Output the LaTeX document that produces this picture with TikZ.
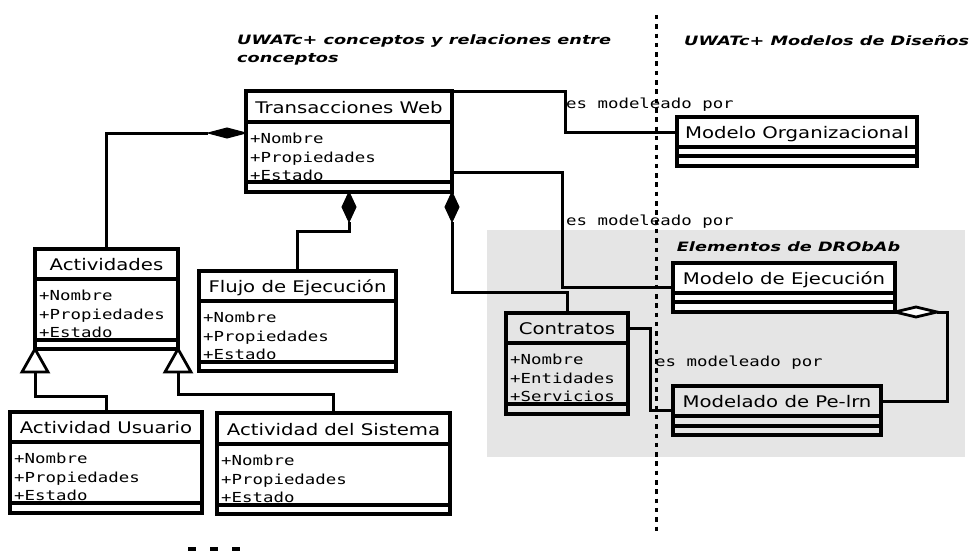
\documentclass[tikz,border=0pt]{standalone}
\usepackage{fontspec}
\setmainfont{DejaVu Sans}[FakeStretch=1.23]
\newfontfamily\attrfont{DejaVu Sans Mono}[FakeStretch=1.26]
\newfontfamily\ttlfont{DejaVu Sans}[FakeStretch=1.37]
\usetikzlibrary{calc}
\definecolor{regiongray}{RGB}{229,229,229}
\tikzset{
  clsbox/.style={draw, line width=3.1pt, inner sep=0pt, outer sep=0pt, anchor=north west},
  clsline/.style={line width=3.1pt},
  clstitle/.style={anchor=base, inner sep=0pt, font=\fontsize{16}{18}\selectfont},
  attr/.style={anchor=base west, inner sep=0pt, font=\attrfont\fontsize{13.8}{16}\selectfont},
  lbl/.style={anchor=base west, inner sep=0pt, font=\attrfont\fontsize{13.8}{16}\selectfont},
  ttl/.style={anchor=base west, inner sep=0pt, font=\ttlfont\bfseries\itshape\fontsize{12.9}{15}\selectfont},
  conn/.style={line width=3pt},
  diafill/.style={line width=1pt, draw, fill=black, line join=miter},
  diaopen/.style={line width=2.8pt, draw, fill=white, line join=miter},
  triopen/.style={line width=2.8pt, draw, fill=white, line join=miter},
  sepline/.style={line width=3pt, dash pattern=on 4.5pt off 4.8pt},
}
\newcommand\umlclass[9]{%
  \pgfmathsetmacro\clsW{#4-#2}%
  \pgfmathsetmacro\clsH{#5-#3}%
  \node[clsbox, fill=#9, minimum width=\clsW pt, minimum height=\clsH pt] (#1) at (#2,#3) {};
  \draw[clsline] (#2,#6) -- (#4,#6) (#2,#7) -- (#4,#7);
  \node[clstitle] (#1-title) at ({(#2+#4)/2},{#6-8.5}) {#8};
}
\newcommand\umlattrs[6]{%
  \node[attr] (#1-a1) at ({#2+4},{#3+21.5}) {#4};
  \node[attr] (#1-a2) at ({#2+4},{#3+40}) {#5};
  \node[attr] (#1-a3) at ({#2+4},{#3+58.5}) {#6};
}
\begin{document}
\begin{tikzpicture}[x=1pt,y=-1pt]
\useasboundingbox (0,0) rectangle (969,551);
% region
\fill[regiongray] (487,230) rectangle (965,457);
% classes
\umlclass{trans}{246}{91}{452}{192}{122}{182}{Transacciones Web}{white}
\umlattrs{trans}{246}{122}{+Nombre}{+Propiedades}{+Estado}
\umlclass{org}{677}{117}{917}{166}{147}{156}{Modelo Organizacional}{white}
\umlclass{act}{35}{249}{178}{349}{279}{340}{Actividades}{white}
\umlattrs{act}{35}{279}{+Nombre}{+Propiedades}{+Estado}
\umlclass{flujo}{199}{271}{396}{371}{301}{362}{Flujo de Ejecución}{white}
\umlattrs{flujo}{199}{301}{+Nombre}{+Propiedades}{+Estado}
\umlclass{actU}{10}{412}{202}{513}{442}{503}{Actividad Usuario}{white}
\umlattrs{actU}{10}{442}{+Nombre}{+Propiedades}{+Estado}
\umlclass{actS}{217}{413}{450}{514}{444}{505}{Actividad del Sistema}{white}
\umlattrs{actS}{217}{444}{+Nombre}{+Propiedades}{+Estado}
\umlclass{ejec}{673}{263}{895}{312}{293}{302}{Modelo de Ejecución}{white}
\umlclass{contr}{506}{313}{628}{414}{343}{404}{Contratos}{none}
\umlattrs{contr}{506}{343}{+Nombre}{+Entidades}{+Servicios}
\umlclass{pelrn}{673}{386}{881}{435}{416}{426}{Modelado de Pe-lrn}{none}
% composition Transacciones <- Actividades
\coordinate (cA) at ($(trans.north west)+(0,42)$);
\draw[conn] ($(cA)+(-38,0)$) -| (act.north);
\draw[diafill] (cA) -- ++(-19,-5) -- ++(-19,5) -- ++(19,5) -- cycle;
% composition Transacciones <- Flujo
\draw[conn] ($(trans.south)+(0,30)$) -- ++(0,9) -| (flujo.north);
\draw[diafill] (trans.south) -- ++(7,15) -- ++(-7,15) -- ++(-7,-15) -- cycle;
% composition Transacciones <- Contratos
\draw[conn] ($(trans.south east)+(0,30)$) |- ($(contr.north)+(0,-21)$) -- (contr.north);
\draw[diafill] (trans.south east) -- ++(7,15) -- ++(-7,15) -- ++(-7,-15) -- cycle;
% es modeleado por: Transacciones -> Modelo Organizacional
\draw[conn] (trans.north east) -- ++(113,0) |- ($(org.north west)+(0,15)$);
% es modeleado por: Transacciones -> Modelo de Ejecucion
\draw[conn] ($(trans.north east)+(0,81)$) -- ++(110,0) |- ($(ejec.north west)+(0,24)$);
% es modeleado por: Contratos -> Modelado de Pe-lrn
\draw[conn] ($(contr.north east)+(0,15)$) -- ++(22,0) |- ($(pelrn.north west)+(0,24)$);
% aggregation Modelo de Ejecucion <- Modelado de Pe-lrn
\draw[conn] ($(ejec.south east)+(42,0)$) -- ++(10,0) |- ($(pelrn.north east)+(0,15)$);
\draw[diaopen] (ejec.south east) -- ++(21,-5) -- ++(21,5) -- ++(-21,5) -- cycle;
% generalizations
\draw[conn] ($(act.south west)+(0,23)$) |- ($(actU.north)+(0,-16)$) -- (actU.north);
\draw[triopen] (act.south west) -- ++(13,23) -- ++(-26,0) -- cycle;
\draw[conn] ($(act.south east)+(0,23)$) |- ($(actS.north)+(0,-19)$) -- (actS.north);
\draw[triopen] (act.south east) -- ++(13,23) -- ++(-26,0) -- cycle;
% labels
\node[lbl] (l1) at (566,108) {es modeleado por};
\node[lbl] (l2) at (566,225) {es modeleado por};
\node[lbl] (l3) at (655,366) {es modeleado por};
% titles
\node[ttl] (t1) at (237,44.3) {UWATc+ conceptos y relaciones entre};
\node[ttl] (t1b) at (237,62.7) {conceptos};
\node[ttl] (t2) at (684,45.5) {UWATc+ Modelos de Diseños};
\node[ttl] (t3) at (676.7,251) {Elementos de DRObAb};
% separator
\coordinate (sepT) at (656,15);
\coordinate (sepB) at (656,532);
\draw[sepline] (sepT) -- (sepB);
% dots at bottom
\fill (188,547) rectangle (196,551);
\fill (210,547) rectangle (218,551);
\fill (232,547) rectangle (240,551);
\end{tikzpicture}
\end{document}
